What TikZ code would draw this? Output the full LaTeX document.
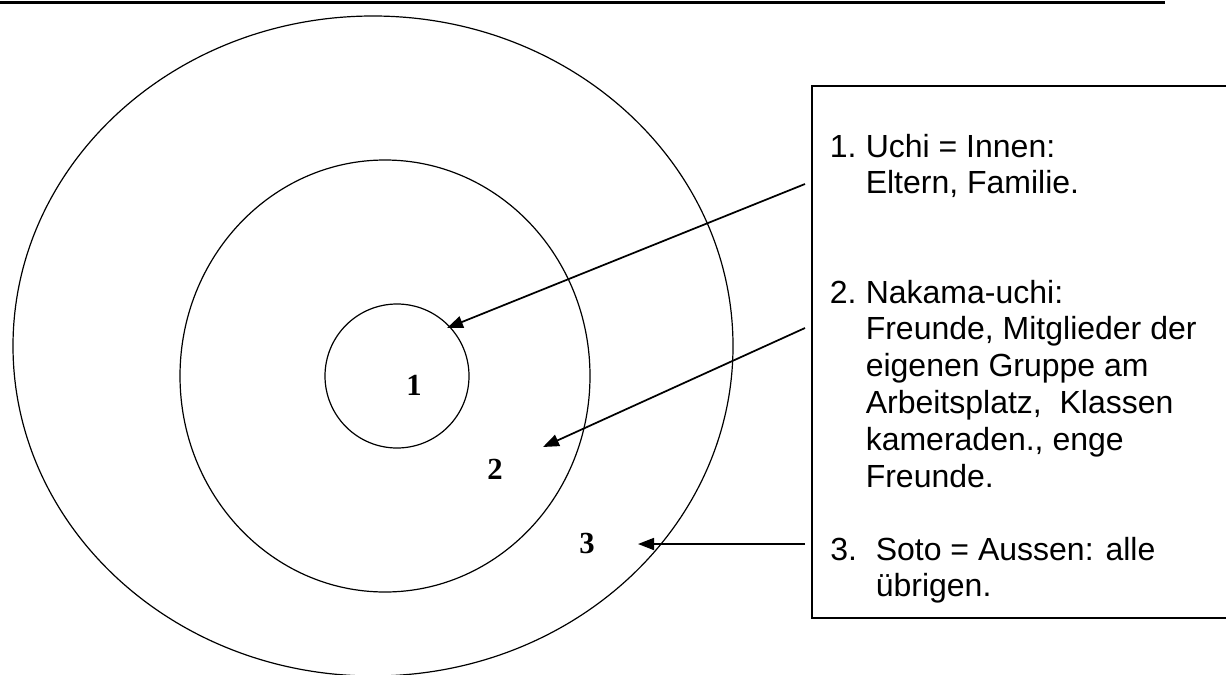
\documentclass[tikz,border=0pt]{standalone}
\usepackage{fontspec}
\setmainfont{Liberation Sans}
\newfontfamily\numfont{Liberation Serif}
\usetikzlibrary{arrows.meta}
\begin{document}
\begin{tikzpicture}[x=0.75pt,y=-0.75pt,
  ring/.style={draw, line width=0.9pt},
  txt/.style={anchor=base west, inner sep=0pt, font=\fontsize{24}{27.6}\selectfont},
  num/.style={font=\numfont\bfseries\fontsize{23}{27}\selectfont, inner sep=0pt},
  pointer/.style={-{Triangle[length=12pt,width=9pt]}, line width=1.3pt},
  infobox/.style={draw, line width=1.2pt, fill=white, anchor=north west, minimum width=330pt, minimum height=399pt, inner sep=0pt}]
\clip (0,0) rectangle (1226,674);
\fill[white] (0,0) rectangle (1226,674);
% top rule
\coordinate (ruleL) at (0,2.5);
\coordinate (ruleR) at (1165,2.5);
\draw[line width=1.9pt] (ruleL) -- (ruleR);
% rings
\draw[ring] (373,346) ellipse [x radius=360, y radius=330];
\draw[ring] (385,376) ellipse [x radius=205, y radius=216];
\draw[ring] (397,376) circle [radius=72];
% ring labels
\node[num] (n1) at (414,385) {1};
\node[num] (n2) at (495,469) {2};
\node[num] (n3) at (587,543) {3};
% box
\node[infobox] (box) at (811,85) {};
% texts
\node[txt] (l1a) at (829.5,157) {1.};
\node[txt] (l1b) at (865.5,157) {Uchi = Innen:};
\node[txt] (l1c) at (865.5,193.8) {Eltern, Familie.};
\node[txt] (l2a) at (829.5,303) {2.};
\node[txt] (l2b) at (865.5,303) {Nakama-uchi:};
\node[txt] (l2c) at (865.5,339.8) {Freunde, Mitglieder der};
\node[txt] (l2d) at (865.5,376.6) {eigenen Gruppe am};
\node[txt] (l2e) at (865.5,413.4) {Arbeitsplatz,\ \ Klassen};
\node[txt] (l2f) at (865.5,450.2) {kameraden., enge};
\node[txt] (l2g) at (865.5,487) {Freunde.};
\node[txt] (l3a) at (830,560) {3.};
\node[txt] (l3b) at (875.5,560) {Soto = Aussen: alle};
\node[txt] (l3c) at (875.5,596.8) {übrigen.};
% arrows
\coordinate (s1) at (805,184);
\coordinate (t1) at (447,328);
\coordinate (s2) at (805,328);
\coordinate (t2) at (543,447);
\coordinate (s3) at (805,544);
\coordinate (t3) at (638,544);
\draw[pointer] (s1) -- (t1);
\draw[pointer] (s2) -- (t2);
\draw[pointer] (s3) -- (t3);
\end{tikzpicture}
\end{document}
